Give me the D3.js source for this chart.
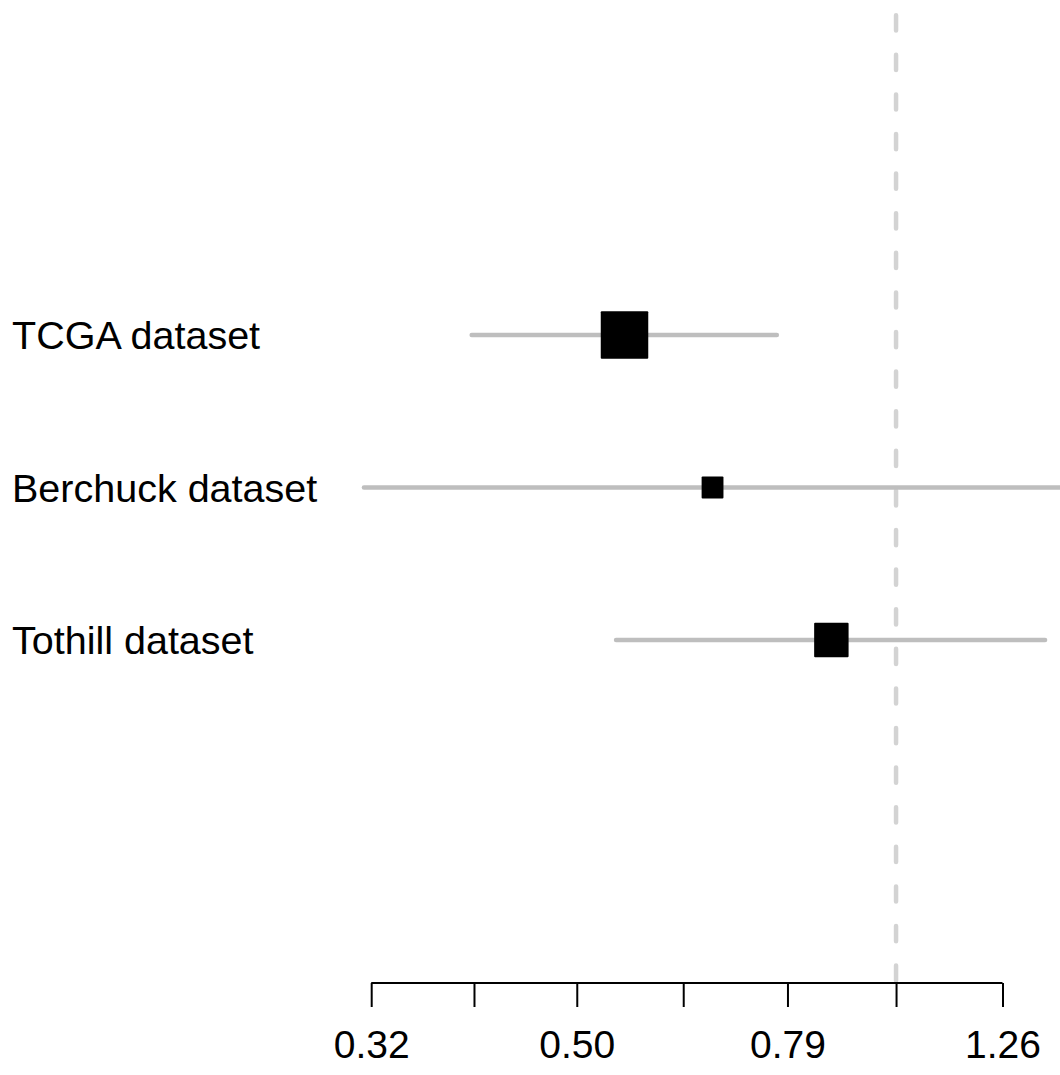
<!DOCTYPE html>
<html>
<head>
<meta charset="utf-8">
<script src="https://cdn.jsdelivr.net/npm/d3@7"></script>
<style>
  html, body { margin: 0; padding: 0; background: #fff; }
  svg { display: block; font-family: "Liberation Sans", Arial, Helvetica, sans-serif; }
</style>
</head>
<body>
<svg id="chart" width="1060" height="1075"></svg>
<script>
// ---- data ----
const studies = ["TCGA dataset", "Berchuck dataset", "Tothill dataset"];
const estimates = [0.5546, 0.6714, 0.869];
const lowerCI = [0.398, 0.315, 0.5445];
const upperCI = [0.772, 1.55, 1.382];
const weights = [1.0, 0.46, 0.725];
const tickValues = [0.32, 0.40, 0.50, 0.63, 0.79, 1.00, 1.26];
const tickLabels = ["0.32", "", "0.50", "", "0.79", "", "1.26"];
const refValue = 1;

// ---- layout ----
const W = 1060, H = 1075;
const svg = d3.select("#chart");

const x = d3.scaleLog()
  .domain([0.32, 1.26])
  .range([371.2, 1002.5]);

const y = d3.scalePoint()
  .domain(studies)
  .range([335, 640]);

const boxSize = d3.scaleLinear().domain([0, 1]).range([0, 47.5]);

const axisY = 983;

svg.append("defs").append("clipPath").attr("id", "clip")
  .append("rect").attr("x", 0).attr("y", 0).attr("width", W).attr("height", H);

const plot = svg.append("g").attr("clip-path", "url(#clip)");

// reference line (dashed)
plot.append("line")
  .attr("x1", x(refValue)).attr("x2", x(refValue))
  .attr("y1", 15.2).attr("y2", axisY - 2)
  .attr("stroke", "#d3d3d3")
  .attr("stroke-width", 4.5)
  .attr("stroke-linecap", "round")
  .attr("stroke-dasharray", "15.2,24.4");

// CI lines
plot.selectAll(".ci")
  .data(studies)
  .join("line")
  .attr("class", "ci")
  .attr("x1", (d, i) => x(lowerCI[i]))
  .attr("x2", (d, i) => x(upperCI[i]))
  .attr("y1", d => y(d))
  .attr("y2", d => y(d))
  .attr("stroke", "#bebebe")
  .attr("stroke-width", 4.5)
  .attr("stroke-linecap", "round");

// boxes
plot.selectAll(".box")
  .data(studies)
  .join("rect")
  .attr("class", "box")
  .attr("x", (d, i) => x(estimates[i]) - boxSize(weights[i]) / 2)
  .attr("y", (d, i) => y(d) - boxSize(weights[i]) / 2)
  .attr("width", (d, i) => boxSize(weights[i]))
  .attr("height", (d, i) => boxSize(weights[i]))
  .attr("rx", 1)
  .attr("fill", "#000");

// study labels
svg.selectAll(".lab")
  .data(studies)
  .join("text")
  .attr("class", "lab")
  .attr("x", 12)
  .attr("y", d => y(d) + 14)
  .attr("font-size", 39.5)
  .attr("fill", "#000")
  .text(d => d);

// x axis
const axis = d3.axisBottom(x)
  .tickValues(tickValues)
  .tickFormat((d, i) => tickLabels[i])
  .tickSize(24)
  .tickSizeOuter(0)
  .tickPadding(23);

const ax = svg.append("g")
  .attr("transform", `translate(0,${axisY})`)
  .call(axis);

ax.select(".domain")
  .attr("stroke", "#000")
  .attr("stroke-width", 2)
  .attr("d", `M${x(tickValues[0])},0H${x(tickValues[tickValues.length - 1])}`);
ax.selectAll(".tick line").attr("stroke", "#000").attr("stroke-width", 2);
ax.selectAll(".tick text")
  .attr("font-size", 39)
  .attr("font-family", "Liberation Sans, Arial, Helvetica, sans-serif")
  .attr("fill", "#000");
</script>
</body>
</html>
